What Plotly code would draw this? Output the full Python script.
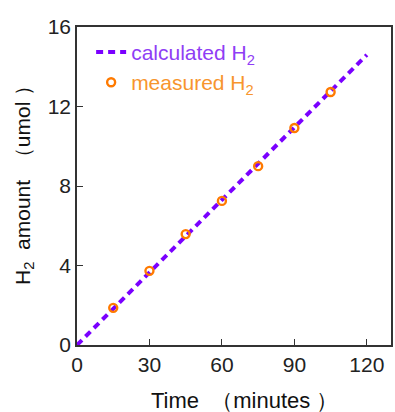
import plotly.graph_objects as go

calc_time = [0, 120]
calc_h2 = [0, 14.6]
meas_time = [15, 30, 45, 60, 75, 90, 105]
meas_h2 = [1.87, 3.73, 5.58, 7.25, 9.0, 10.92, 12.73]
x_ticks = [0, 30, 60, 90, 120]
y_ticks = [0, 4, 8, 12, 16]
x_title = "Time\u00a0 （minutes\u00a0）"
y_title = "H<sub>2</sub>\u00a0 amount\u00a0 （umol\u00a0）"

purple = "#7A00FF"
purple_text = "#8F3DF5"
orange = "#FF7A00"
orange_text = "#F7952E"

fig = go.Figure()
fig.add_trace(go.Scatter(
    x=calc_time, y=calc_h2, mode="lines",
    line=dict(color=purple, width=4, dash="7px,5px"),
    name=f"<span style='color:{purple_text}'>calculated H<sub>2</sub></span>",
))
fig.add_trace(go.Scatter(
    x=meas_time, y=meas_h2, mode="markers",
    marker=dict(symbol="circle-open", size=8, color=orange, line=dict(width=2.4, color=orange)),
    name=f"<span style='color:{orange_text}'>measured H<sub>2</sub></span>",
))

axis_common = dict(
    showgrid=False, zeroline=False, showline=True, linecolor="#333", linewidth=1.5,
    mirror=True, ticks="inside", ticklen=6, tickcolor="#333",
    tickfont=dict(family="Liberation Sans, Arial", size=21, color="#222"),
)
fig.update_layout(
    width=395, height=412,
    margin=dict(l=77, r=2, t=27, b=67),
    plot_bgcolor="white", paper_bgcolor="white",
    font=dict(family="Liberation Sans, Arial"),
    xaxis=dict(range=[0, 130], tickvals=x_ticks, **axis_common),
    yaxis=dict(range=[0, 16], tickvals=y_ticks, **axis_common),
    legend=dict(x=0.045, y=0.985, xanchor="left", yanchor="top",
                font=dict(size=21), bgcolor="rgba(0,0,0,0)", itemwidth=30),
    showlegend=True,
    annotations=[
        dict(text=x_title, xref="paper", yref="paper", x=0.535, y=-0.173,
             xanchor="center", yanchor="middle", showarrow=False,
             font=dict(size=22, color="#111")),
        dict(text=y_title, xref="paper", yref="paper", x=-0.171, y=0.52,
             xanchor="center", yanchor="middle", showarrow=False, textangle=-90,
             font=dict(size=21, color="#111")),
    ],
)
fig.write_html("out.html")
